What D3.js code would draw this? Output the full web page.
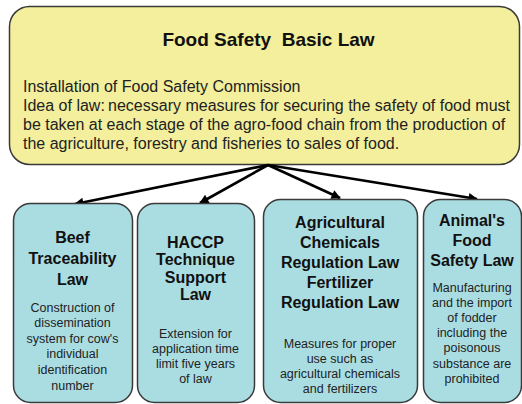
<!DOCTYPE html>
<meta charset="utf-8">
<script src="https://d3js.org/d3.v7.min.js"></script>
<style>
  body { margin: 0; background: #fff; }
  text { font-family: Arial, "Liberation Sans", sans-serif; }
</style>
<div id="chart"></div>
<script>
  // content of the diagram
  const mainTitle = "Food Safety\u00a0 Basic Law";
  const mainLines = [
    "Installation of Food Safety Commission",
    "Idea of law:\u2009necessary measures for securing the safety of food must",
    "be taken at each stage of the agro-food chain from the production of",
    "the agriculture, forestry and fisheries to sales of food."
  ];
  const lawTitles = [
    ["Beef", "Traceability", "Law"],
    ["HACCP", "Technique", "Support", "Law"],
    ["Agricultural", "Chemicals", "Regulation Law", "Fertilizer", "Regulation Law"],
    ["Animal's", "Food", "Safety Law"]
  ];
  const lawNotes = [
    ["Construction of", "dissemination", "system for cow's", "individual", "identification", "number"],
    ["Extension for", "application time", "limit five years", "of law"],
    ["Measures for proper", "use such as", "agricultural chemicals", "and fertilizers"],
    ["Manufacturing", "and the import", "of fodder", "including the", "poisonous", "substance are", "prohibited"]
  ];

  const width = 522, height = 404;

  // layout of the boxes (left, right edges)
  const lower = [
    { x0: 13, x1: 132, top: 203, titleY: 237, titleStep: 21, noteY: 307, noteStep: 15.6 },
    { x0: 137, x1: 254, top: 203, titleY: 242, titleStep: 17.4, noteY: 333, noteStep: 15 },
    { x0: 263, x1: 417, top: 199, titleY: 222, titleStep: 20, noteY: 343, noteStep: 15 },
    { x0: 423, x1: 521, top: 199, titleY: 220, titleStep: 20, noteY: 287, noteStep: 15.2 }
  ];
  const tips = [[75, 204], [200, 203], [340, 198], [477, 199]];
  const origin = [268, 165];

  const svg = d3.select("#chart").append("svg")
    .attr("width", width)
    .attr("height", height);

  const defs = svg.append("defs");
  defs.append("marker")
    .attr("id", "head")
    .attr("viewBox", "0 0 10 10")
    .attr("refX", 9).attr("refY", 5)
    .attr("markerWidth", 4.2).attr("markerHeight", 3.6)
    .attr("markerUnits", "strokeWidth")
    .attr("orient", "auto")
    .append("path")
    .attr("d", "M0,0 L10,5 L0,10 Z")
    .attr("fill", "#000");

  // top box
  svg.append("rect")
    .attr("x", 9.5).attr("y", 6.5)
    .attr("width", 510).attr("height", 158)
    .attr("rx", 20).attr("ry", 20)
    .attr("fill", "#f3ef9c")
    .attr("stroke", "#3a3a3a")
    .attr("stroke-width", 1.5);

  svg.append("text")
    .attr("x", 268.5).attr("y", 46)
    .attr("text-anchor", "middle")
    .style("font-size", "19px")
    .style("font-weight", "bold")
    .attr("fill", "#111")
    .text(mainTitle);

  svg.selectAll(".mainline")
    .data(mainLines)
    .join("text")
    .attr("class", "mainline")
    .attr("x", 23)
    .attr("y", (d, i) => 92 + i * 19)
    .style("font-size", "16px")
    .attr("fill", "#222")
    .text(d => d);

  // arrows
  svg.selectAll(".arrow")
    .data(tips)
    .join("line")
    .attr("class", "arrow")
    .attr("x1", origin[0]).attr("y1", origin[1])
    .attr("x2", d => d[0]).attr("y2", d => d[1])
    .attr("stroke", "#000")
    .attr("stroke-width", 2.6)
    .attr("marker-end", "url(#head)");

  // lower boxes
  const g = svg.selectAll(".law")
    .data(lower.map((b, i) => ({ ...b, title: lawTitles[i], note: lawNotes[i] })))
    .join("g")
    .attr("class", "law");

  g.append("rect")
    .attr("x", d => d.x0 + 0.5)
    .attr("y", d => d.top + 0.5)
    .attr("width", d => d.x1 - d.x0)
    .attr("height", d => 402 - d.top)
    .attr("rx", 17).attr("ry", 17)
    .attr("fill", "#aadde2")
    .attr("stroke", "#3a3a3a")
    .attr("stroke-width", 1.5);

  g.each(function (d) {
    const cx = (d.x0 + d.x1) / 2;
    const sel = d3.select(this);
    sel.selectAll(".t")
      .data(d.title)
      .join("text")
      .attr("class", "t")
      .attr("x", cx)
      .attr("y", (t, i) => d.titleY + i * d.titleStep + 6)
      .attr("text-anchor", "middle")
      .style("font-size", "16px")
      .style("font-weight", "bold")
      .attr("fill", "#111")
      .text(t => t);
    sel.selectAll(".n")
      .data(d.note)
      .join("text")
      .attr("class", "n")
      .attr("x", cx)
      .attr("y", (t, i) => d.noteY + i * d.noteStep + 4.5)
      .attr("text-anchor", "middle")
      .style("font-size", "12.5px")
      .attr("fill", "#222")
      .text(t => t);
  });
</script>
